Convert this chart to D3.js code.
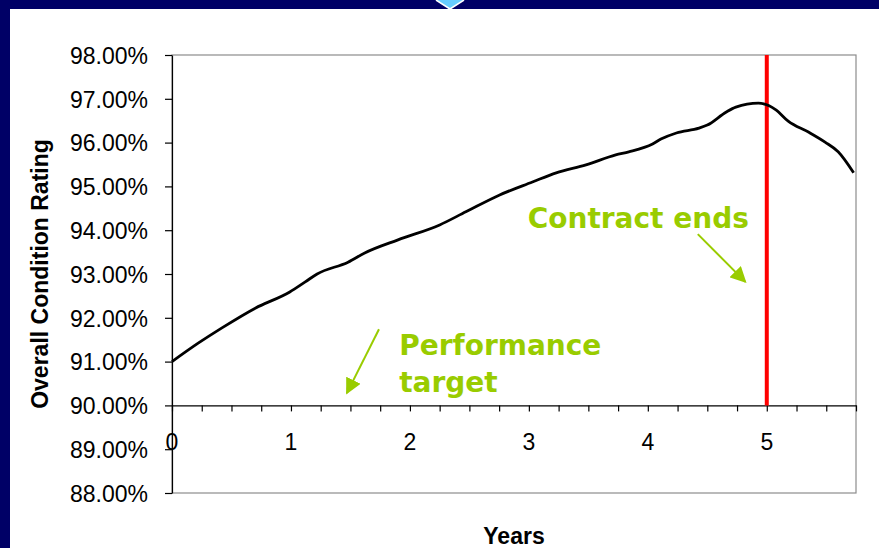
<!DOCTYPE html>
<html>
<head>
<meta charset="utf-8">
<script src="https://cdn.jsdelivr.net/npm/d3@7"></script>
<style>
  html, body { margin: 0; padding: 0; background: #000066; }
  svg { display: block; }
</style>
</head>
<body>
<svg id="chart" width="879" height="548"></svg>
<script>
// values
const years = [0, 0.22, 0.42, 0.70, 0.99, 1.12, 1.22, 1.48, 1.62, 1.90, 2.25, 2.47, 2.75, 3.03, 3.23, 3.48, 3.73, 3.84, 4.04, 4.11, 4.24, 4.43, 4.50, 4.66, 4.74, 4.93, 5.02, 5.08, 5.18, 5.35, 5.49, 5.60, 5.73];
const rating = [91.00, 91.42, 91.77, 92.22, 92.59, 92.82, 93.00, 93.27, 93.48, 93.78, 94.12, 94.42, 94.80, 95.10, 95.31, 95.49, 95.72, 95.79, 95.97, 96.08, 96.22, 96.33, 96.40, 96.70, 96.81, 96.90, 96.84, 96.74, 96.49, 96.24, 96.01, 95.79, 95.31];
const yTicks = [88, 89, 90, 91, 92, 93, 94, 95, 96, 97, 98];
const xTicks = [0, 1, 2, 3, 4, 5];
const xMinorTicks = d3.range(0, 5.76, 0.25);
const contractEnd = 5;
const targetLevel = 90;

const svg = d3.select('#chart');
const margin = { top: 55, right: 23, bottom: 55, left: 172 };
const width = 879;
const height = 548;

const x = d3.scaleLinear().domain([0, 5.75]).range([margin.left, width - margin.right]);
const y = d3.scaleLinear().domain([88, 98]).range([height - margin.bottom, margin.top]);

// white slide panel + little blue marker at the top
svg.append('rect').attr('x', 10).attr('y', 9).attr('width', width - 10).attr('height', height - 9).attr('fill', '#ffffff');
svg.append('path')
  .attr('d', 'M436,0 L450,9 L464,0')
  .attr('fill', '#66ccff')
  .attr('stroke', '#ffffff')
  .attr('stroke-width', 1.5);

// plot frame
svg.append('rect')
  .attr('x', x(0)).attr('y', y(98))
  .attr('width', x(5.75) - x(0)).attr('height', y(88) - y(98))
  .attr('fill', 'none').attr('stroke', '#8c8c8c').attr('stroke-width', 1.2);

// y axis
const axisY = svg.append('g')
  .attr('transform', `translate(${x(0)},0)`)
  .call(d3.axisLeft(y).tickValues(yTicks).tickSize(7).tickPadding(17).tickSizeOuter(0)
    .tickFormat((d) => d3.format('.2f')(d) + '%'));
axisY.select('.domain').attr('stroke', '#000').attr('stroke-width', 1.2);
axisY.selectAll('line').attr('stroke', '#000').attr('stroke-width', 1.2);
axisY.selectAll('text')
  .attr('font-family', '"Liberation Sans", Arial, sans-serif')
  .attr('font-size', 23)
  .attr('fill', '#000')
  .attr('dy', '0.36em');

// x axis sits on the 90% line
const axisX = svg.append('g')
  .attr('transform', `translate(0,${y(targetLevel)})`)
  .call(d3.axisBottom(x).tickValues(xMinorTicks).tickSize(6).tickSizeOuter(0).tickFormat(''));
axisX.select('.domain').attr('stroke', '#000').attr('stroke-width', 1.2);
axisX.selectAll('line').attr('stroke', '#000').attr('stroke-width', 1.2);

svg.append('g')
  .selectAll('text')
  .data(xTicks)
  .join('text')
  .attr('x', (d) => x(d))
  .attr('y', y(targetLevel) + 45)
  .attr('text-anchor', 'middle')
  .attr('font-family', '"Liberation Sans", Arial, sans-serif')
  .attr('font-size', 23)
  .attr('fill', '#000')
  .text((d) => d);

// contract end marker
svg.append('line')
  .attr('x1', x(contractEnd)).attr('x2', x(contractEnd))
  .attr('y1', y(98)).attr('y2', y(targetLevel))
  .attr('stroke', '#ff0000').attr('stroke-width', 4);

// data line
const line = d3.line()
  .x((d, i) => x(years[i]))
  .y((d) => y(d))
  .curve(d3.curveMonotoneX);

svg.append('path')
  .datum(rating)
  .attr('d', line)
  .attr('fill', 'none')
  .attr('stroke', '#000')
  .attr('stroke-width', 2.8)
  .attr('stroke-linejoin', 'round');

// axis titles
svg.append('text')
  .attr('x', x(2.875)).attr('y', 544)
  .attr('text-anchor', 'middle')
  .attr('font-family', '"Liberation Sans", Arial, sans-serif')
  .attr('font-weight', 'bold')
  .attr('font-size', 23)
  .text('Years');

svg.append('text')
  .attr('transform', `translate(48,${y(93)}) rotate(-90)`)
  .attr('text-anchor', 'middle')
  .attr('font-family', '"Liberation Sans", Arial, sans-serif')
  .attr('font-weight', 'bold')
  .attr('font-size', 23)
  .text('Overall Condition Rating');

// annotations
const green = '#99cc00';
svg.append('defs').append('marker')
  .attr('id', 'arrow')
  .attr('viewBox', '0 0 10 10')
  .attr('refX', 9).attr('refY', 5)
  .attr('markerWidth', 8).attr('markerHeight', 8)
  .attr('markerUnits', 'strokeWidth')
  .attr('orient', 'auto')
  .append('path')
  .attr('d', 'M0,0 L10,5 L0,10 Z')
  .attr('fill', green);

const notes = [
  { text: ['Contract ends'], tx: 2.99, ty: 94.05, from: [4.42, 93.91], to: [4.82, 92.82] },
  { text: ['Performance', 'target'], tx: 1.91, ty: 91.15, from: [1.74, 91.74], to: [1.47, 90.28] }
];

notes.forEach((note) => {
  svg.append('line')
    .attr('x1', x(note.from[0])).attr('y1', y(note.from[1]))
    .attr('x2', x(note.to[0])).attr('y2', y(note.to[1]))
    .attr('stroke', green).attr('stroke-width', 2)
    .attr('marker-end', 'url(#arrow)');

  note.text.forEach((t, i) => {
    svg.append('text')
      .attr('x', x(note.tx))
      .attr('y', y(note.ty) + i * 37)
      .attr('font-family', '"DejaVu Sans", Verdana, sans-serif')
      .attr('font-weight', 'bold')
      .attr('font-size', 28)
      .attr('fill', green)
      .text(t);
  });
});
</script>
</body>
</html>
